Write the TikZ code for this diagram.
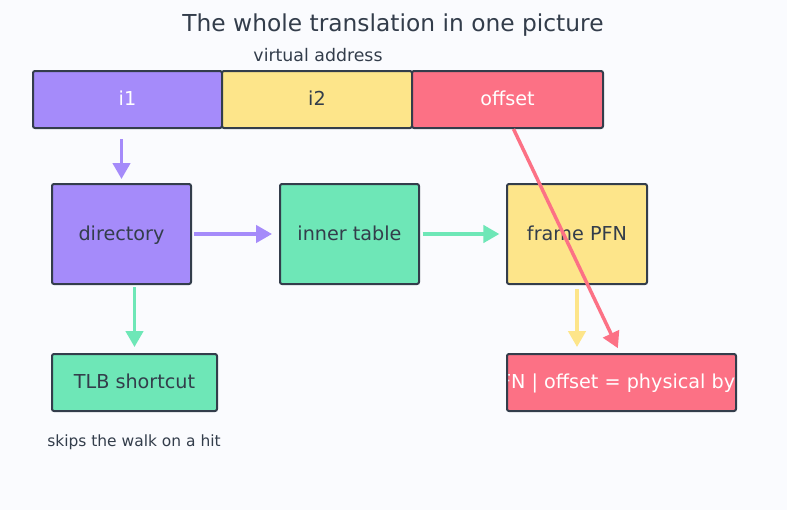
\documentclass[tikz,border=0pt]{standalone}
\usepackage{fontspec}
\setmainfont{DejaVu Sans}
\usetikzlibrary{arrows.meta}

\definecolor{bgcol}{RGB}{250,251,254}
\definecolor{inkcol}{RGB}{51,61,75}
\definecolor{purplecol}{RGB}{165,139,250}
\definecolor{yellowcol}{RGB}{253,229,138}
\definecolor{redcol}{RGB}{252,113,133}
\definecolor{greencol}{RGB}{110,231,183}

\tikzset{every picture/.style={line width=0.75pt}}
\tikzset{
  box/.style={draw=inkcol, line width=1.5pt, rounded corners=1.5pt, inner sep=0pt,
    font=\fontsize{14.4}{17}\selectfont, text=inkcol, text height=0.95em, text depth=0pt},
  barbox/.style={box, minimum height=42.75pt},
  flow/.style={line width=2.6pt, -{Triangle[length=12pt,width=13pt]}},
  lbl/.style={inner sep=0pt, text=inkcol}
}

\begin{document}
\begin{tikzpicture}[x=0.75pt,y=0.75pt,yscale=-1,xscale=1]
	%background, fixes the size
	\fill [bgcol] (0,0) rectangle (787,510);
	\useasboundingbox (0,0) rectangle (787,510);
	
	% Text Node
	\node [lbl, font=\fontsize{17.5}{21}\selectfont] (title) at (393,25) {The whole translation in one picture};
	% Text Node
	\node [lbl, font=\fontsize{13}{16}\selectfont] (valbl) at (318,55) {virtual address};
	
	%virtual address bar
	\node [barbox, fill=purplecol, text=white, minimum width=141.75pt] (i1) at (127.5,99.5) {i1};
	\node [barbox, fill=yellowcol, minimum width=142.5pt] (i2) at (317,99.5) {i2};
	\node [barbox, fill=redcol, text=white, minimum width=143.25pt] (off) at (507.5,99.5) {offset};
	
	%walk
	\node [box, fill=purplecol, minimum width=104.25pt, minimum height=75pt] (dir) at (121.5,234) {directory};
	\node [box, fill=greencol, minimum width=104.25pt, minimum height=75pt] (inner) at (349.5,234) {inner table};
	\node [box, fill=yellowcol, minimum width=105pt, minimum height=75pt] (frame) at (577,234) {frame PFN};
	
	%bottom row
	\node [barbox, fill=greencol, minimum width=123.75pt] (tlb) at (134.5,382.5) {TLB shortcut};
	\node [barbox, fill=redcol, minimum width=171.75pt,
	  path picture={\node [text=white, font=\fontsize{14.4}{17}\selectfont, text height=0.95em, text depth=0pt] at (path picture bounding box.center) {PFN | offset = physical byte};}] (phys) at (621.5,382.5) {};
	% Text Node
	\node [lbl, font=\fontsize{11.6}{14}\selectfont] (skip) at (134,442) {skips the walk on a hit};
	
	%Arrows
	\draw [flow, purplecol, shorten <=7.5pt, shorten >=3pt] (dir.north |- i1.south) -- (dir.north);
	\draw [flow, purplecol, shorten <=1.5pt, shorten >=5.25pt] (dir.east) -- (inner.west);
	\draw [flow, greencol, shorten <=2pt, shorten >=5pt] (inner.east) -- (frame.west);
	\draw [flow, greencol, shorten <=1.5pt, shorten >=4.5pt] (tlb.north |- dir.south) -- (tlb.north);
	\draw [flow, yellowcol, shorten <=3pt, shorten >=4.5pt] (frame.south) -- (frame.south |- phys.north);
	\draw [flow, redcol, shorten >=4pt] ([xshift=4.5pt]off.south) -- ([xshift=-1pt]phys.north);
\end{tikzpicture}
\end{document}
